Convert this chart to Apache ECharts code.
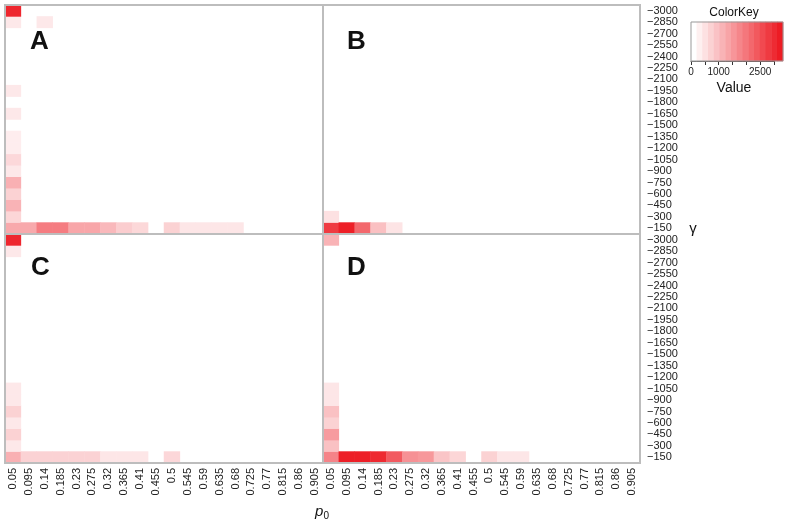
<!DOCTYPE html>
<html>
<head>
<meta charset="utf-8">
<script src="https://cdn.jsdelivr.net/npm/echarts@6/dist/echarts.min.js"></script>
<style>html,body{margin:0;padding:0;background:#fff}#main{width:788px;height:528px}</style>
</head>
<body>
<div id="main"></div>
<script>
var p0Labels = ['0.05','0.095','0.14','0.185','0.23','0.275','0.32','0.365','0.41','0.455','0.5','0.545','0.59','0.635','0.68','0.725','0.77','0.815','0.86','0.905'];
var gammaLabels = ['\u2212150','\u2212300','\u2212450','\u2212600','\u2212750','\u2212900','\u22121050','\u22121200','\u22121350','\u22121500','\u22121650','\u22121800','\u22121950','\u22122100','\u22122250','\u22122400','\u22122550','\u22122700','\u22122850','\u22123000'];

// column p0 = 0.05, gamma -150 .. -3000
var colA = [1250,600,1100,660,1150,330,560,260,260,0,330,0,330,0,0,0,0,0,330,3150];
var colB = [2850,430,0,0,0,0,0,0,0,0,0,0,0,0,0,0,0,0,0,0];
var colC = [1150,330,660,330,660,330,330,0,0,0,0,0,0,0,0,0,0,0,330,3150];
var colD = [1800,900,1450,660,900,360,360,0,0,0,0,0,0,0,0,0,0,0,0,1100];
// row gamma = -150, p0 0.095 .. 0.905
var rowA = [1250,1900,1900,1300,1300,1030,730,570,0,660,360,360,360,360,0,0,0,0,0];
var rowB = [3250,2200,920,390,0,0,0,0,0,0,0,0,0,0,0,0,0,0,0];
var rowC = [650,650,650,650,650,360,360,360,0,580,0,0,0,0,0,0,0,0,0];
var rowD = [3250,3250,3100,2400,1600,1500,850,600,0,660,360,360,0,0,0,0,0,0,0];
// other cells [p0 index, gamma index, value]
var extraA = [[2,18,330]];

var keyMax = 3300, keyBins = 16;
var keyCats = [], keyVals = [];
for (var k = 0; k < keyBins; k++) { keyCats.push(k); keyVals.push(k * keyMax / (keyBins - 1)); }

function cells(col, row, extra) {
  var out = [];
  col.forEach(function(v, j){ if (v > 0) out.push([0, j, v]); });
  row.forEach(function(v, i){ if (v > 0) out.push([i + 1, 0, v]); });
  (extra || []).forEach(function(c){ out.push(c); });
  return out;
}

var font = 'Liberation Sans, Arial, sans-serif';
var grids = [
  {left:5, top:5, width:318, height:229},
  {left:323, top:5, width:317, height:229},
  {left:5, top:234, width:318, height:229},
  {left:323, top:234, width:317, height:229}
];
grids.forEach(function(g){ g.show = true; g.z = 5; g.backgroundColor = 'rgba(0,0,0,0)'; g.borderColor = '#bdbdbd'; g.borderWidth = 2; });
grids.push({left:691, top:22, width:92, height:39, show:true, z:5, backgroundColor:'rgba(0,0,0,0)', borderColor:'#999', borderWidth:1});
grids.push({left:691, top:22, width:83, height:39});

function xCat(i, showLab) {
  return {type:'category', gridIndex:i, data:p0Labels, axisLine:{show:false}, axisTick:{show:false}, splitLine:{show:false},
    axisLabel:{show:showLab, interval:0, rotate:90, margin:5, fontSize:11, color:'#222', fontFamily:font}};
}
function yCat(i, showLab) {
  return {type:'category', gridIndex:i, data:gammaLabels, position:'right', axisLine:{show:false}, axisTick:{show:false}, splitLine:{show:false},
    axisLabel:{show:showLab, interval:0, margin:7, fontSize:11, color:'#222', fontFamily:font}};
}

var xAxes = [xCat(0,false), xCat(1,false), xCat(2,true), xCat(3,true),
  {type:'category', gridIndex:4, data:keyCats, show:false},
  {type:'value', gridIndex:5, min:0, max:3000, interval:500, position:'bottom',
    axisLine:{show:true, lineStyle:{color:'#333', width:1}}, axisTick:{show:true, length:4, lineStyle:{color:'#333'}},
    splitLine:{show:false},
    axisLabel:{margin:6, fontSize:10, color:'#222', fontFamily:font,
      formatter:function(v){ return (v === 0 || v === 1000 || v === 2500) ? String(v) : ''; }}}];
var yAxes = [yCat(0,false), yCat(1,true), yCat(2,false), yCat(3,true),
  {type:'category', gridIndex:4, data:['k'], show:false},
  {type:'value', gridIndex:5, show:false}];

var panels = [cells(colA,rowA,extraA), cells(colB,rowB), cells(colC,rowC), cells(colD,rowD)];
var series = panels.map(function(d, i){
  return {type:'heatmap', xAxisIndex:i, yAxisIndex:i, data:d, emphasis:{disabled:true}};
});
series.push({type:'heatmap', xAxisIndex:4, yAxisIndex:4, emphasis:{disabled:true},
  data:keyVals.map(function(v, i){ return [i, 0, v]; })});

function txt(x, y, s, size, extra) {
  var st = {text:s, x:x, y:y, fontSize:size, fontFamily:font, fill:'#111', align:'center', verticalAlign:'middle'};
  for (var key in extra) st[key] = extra[key];
  return {type:'text', z:20, style:st};
}

var myChart = echarts.init(document.getElementById('main'));
var option = {
  animation:false,
  backgroundColor:'#fff',
  grid:grids,
  xAxis:xAxes,
  yAxis:yAxes,
  visualMap:{show:false, type:'continuous', min:0, max:keyMax, seriesIndex:[0,1,2,3,4],
    inRange:{color:['#ffffff','#ed1c24']}},
  series:series,
  graphic:[
    txt(30, 42, 'A', 26, {fontWeight:'bold', align:'left'}),
    txt(347, 42, 'B', 26, {fontWeight:'bold', align:'left'}),
    txt(31, 268, 'C', 26, {fontWeight:'bold', align:'left'}),
    txt(347, 268, 'D', 26, {fontWeight:'bold', align:'left'}),
    txt(734, 13, 'ColorKey', 12),
    txt(734, 88, 'Value', 14),
    txt(693, 229, '\u03b3', 15),
    {type:'text', z:20, style:{x:322, y:512, align:'center', verticalAlign:'middle',
      text:'{p|p}{s|0}', rich:{p:{fontSize:15, fontStyle:'italic', fontFamily:font, fill:'#111'},
        s:{fontSize:10, fontFamily:font, fill:'#111', padding:[8,0,0,0]}}}}
  ]
};
myChart.setOption(option);
window.onresize = myChart.resize;
</script>
</body>
</html>
